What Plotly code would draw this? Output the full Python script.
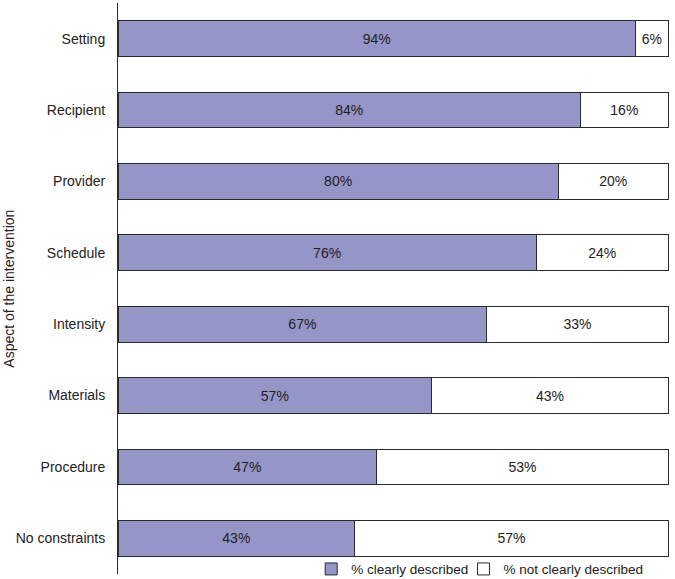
import plotly.graph_objects as go

CATEGORIES = ["Setting", "Recipient", "Provider", "Schedule", "Intensity",
              "Materials", "Procedure", "No constraints"]
CLEAR = [94, 84, 80, 76, 67, 57, 47, 43]
NOT_CLEAR = [6, 16, 20, 24, 33, 43, 53, 57]

FONT = "Liberation Sans, Arial, sans-serif"
EDGE = "#2b2b2b"

fig = go.Figure()
fig.add_trace(go.Bar(
    y=CATEGORIES, x=CLEAR, orientation="h", name="% clearly described",
    marker=dict(color="#9595c7", line=dict(color=EDGE, width=1)),
    text=[f"{v}%" for v in CLEAR], textposition="inside",
    insidetextanchor="middle", constraintext="none",
    textfont=dict(size=14, color="#222"), width=0.5, legend="legend",
    showlegend=True,
))
fig.add_trace(go.Bar(
    y=CATEGORIES, x=NOT_CLEAR, orientation="h", name="% not clearly described",
    marker=dict(color="white", line=dict(color=EDGE, width=1)),
    text=[f"{v}%" for v in NOT_CLEAR], textposition="inside",
    insidetextanchor="middle", constraintext="none",
    textfont=dict(size=14, color="#222"), width=0.5, legend="legend2",
    showlegend=True,
))

leg = dict(orientation="h", yref="container", y=0.017, xanchor="left",
           yanchor="middle", font=dict(size=13.5), bgcolor="rgba(0,0,0,0)",
           itemwidth=30)

fig.update_layout(
    barmode="stack",
    width=675, height=579,
    margin=dict(l=118, r=5, t=3, b=5, autoexpand=False),
    showlegend=True,
    plot_bgcolor="white", paper_bgcolor="white",
    font=dict(family=FONT, size=14, color="#222"),
    legend=dict(leg, x=0.350),
    legend2=dict(leg, x=0.626),
    xaxis=dict(range=[0, 100.3], visible=False, fixedrange=True),
    yaxis=dict(
        categoryorder="array", categoryarray=CATEGORIES[::-1],
        range=[-0.5, 7.5], showline=True, linecolor=EDGE, linewidth=1,
        ticks="outside", ticklen=9, tickcolor="rgba(0,0,0,0)",
        showgrid=False, zeroline=False, automargin=False,
        tickfont=dict(size=14),
    ),
    annotations=[dict(
        text="Aspect of the intervention", textangle=-90,
        xref="paper", yref="paper", x=-0.199, y=0.5,
        xanchor="center", yanchor="middle",
        showarrow=False, font=dict(size=14),
    )],
)

fig.write_html("out.html", config={"displayModeBar": False},
               post_script="document.body.style.margin='0';")
